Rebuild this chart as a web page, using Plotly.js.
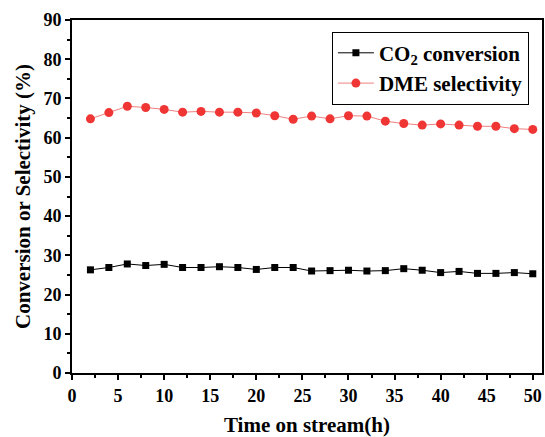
<!DOCTYPE html>
<html>
<head>
<meta charset="utf-8">
<script src="https://cdn.plot.ly/plotly-3.0.1.min.js"></script>
<style>html,body{margin:0;padding:0;background:#fff;}#chart{width:545px;height:437px;}</style>
</head>
<body>
<div id="chart"></div>
<script>
const timeH = [2,4,6,8,10,12,14,16,18,20,22,24,26,28,30,32,34,36,38,40,42,44,46,48,50];
const co2Conversion = [26.3,26.9,27.8,27.4,27.7,26.9,26.9,27.1,26.9,26.4,26.9,26.9,26.0,26.1,26.2,26.0,26.1,26.6,26.2,25.6,25.9,25.4,25.4,25.6,25.3];
const dmeSelectivity = [64.8,66.4,68.0,67.7,67.2,66.5,66.7,66.5,66.5,66.3,65.6,64.7,65.5,64.8,65.6,65.5,64.2,63.6,63.2,63.5,63.2,62.9,62.9,62.3,62.1];
const seriesNames = ['CO<sub>2</sub> conversion', 'DME selectivity'];
const xTickVals = [0,5,10,15,20,25,30,35,40,45,50];
const yTickVals = [0,10,20,30,40,50,60,70,80,90];

const fontFam = 'Liberation Serif, Times New Roman, serif';
const traces = [
  {x: timeH, y: co2Conversion, name: seriesNames[0], mode: 'lines+markers', type: 'scatter',
   line: {color: '#000000', width: 1}, marker: {symbol: 'square', size: 7, color: '#000000'}},
  {x: timeH, y: dmeSelectivity, name: seriesNames[1], mode: 'lines+markers', type: 'scatter',
   line: {color: '#f08080', width: 1}, marker: {symbol: 'circle', size: 9, color: '#f03535'}}
];
const axisCommon = {
  showline: true, linecolor: '#000', linewidth: 2, mirror: true,
  ticks: 'outside', ticklen: 5, tickwidth: 2, tickcolor: '#000',
  showgrid: false, zeroline: false,
  tickfont: {family: fontFam, size: 18, color: '#000', weight: 'bold'}
};
const layout = {
  width: 545, height: 437,
  margin: {l: 72, r: 3, t: 20, b: 64},
  paper_bgcolor: '#fff', plot_bgcolor: '#fff',
  font: {family: fontFam, color: '#000'},
  showlegend: true,
  legend: {x: 0.553, y: 0.967, xanchor: 'left', yanchor: 'top',
    bordercolor: '#000', borderwidth: 1, bgcolor: '#fff',
    font: {family: fontFam, size: 21, color: '#000', weight: 'bold'},
    itemwidth: 36, tracegroupgap: 0},
  xaxis: Object.assign({}, axisCommon, {
    range: [0, 51], tickmode: 'array', tickvals: xTickVals,
    minor: {dtick: 2.5, tick0: 0, ticks: 'outside', ticklen: 3, tickwidth: 2, tickcolor: '#000'},
    title: {text: 'Time on stream(h)', standoff: 18, font: {family: fontFam, size: 21, color: '#000', weight: 'bold'}}
  }),
  yaxis: Object.assign({}, axisCommon, {
    range: [0, 90], tickmode: 'array', tickvals: yTickVals,
    minor: {dtick: 5, tick0: 0, ticks: 'outside', ticklen: 3, tickwidth: 2, tickcolor: '#000'},
    title: {text: 'Conversion or Selectivity (%)', standoff: 7, font: {family: fontFam, size: 21, color: '#000', weight: 'bold'}}
  })
};
Plotly.newPlot('chart', traces, layout, {displayModeBar: false, staticPlot: true});
</script>
</body>
</html>
